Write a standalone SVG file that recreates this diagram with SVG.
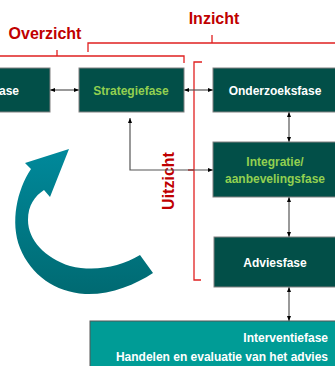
<svg xmlns="http://www.w3.org/2000/svg" width="335" height="366" viewBox="0 0 335 366">
<defs>
<style>
.box{fill:#024f48;stroke:#808080;stroke-width:1}
.t{font-family:"Liberation Sans",Arial,sans-serif;font-weight:bold;font-size:12px;fill:#ffffff}
.g{fill:#92d050}
.red{font-family:"Liberation Sans",Arial,sans-serif;font-weight:bold;font-size:16px;fill:#c00000}
.br{fill:none;stroke:#e02020;stroke-width:1.3}
.c{fill:none;stroke:#555555;stroke-width:1.2}
</style>
<marker id="ah" viewBox="0 0 10 10" refX="10" refY="5" markerWidth="5" markerHeight="5" orient="auto-start-reverse" markerUnits="userSpaceOnUse">
<path d="M0,1 L10,5 L0,9 Z" fill="#000000"/>
</marker>
<linearGradient id="ag" x1="0" y1="0" x2="0" y2="1">
<stop offset="0" stop-color="#00899b"/>
<stop offset="1" stop-color="#006a72"/>
</linearGradient>
</defs>
<rect width="335" height="366" fill="#ffffff"/>
<g id="brackets">
<path class="br" d="M0,56 H184 V63 M57,56 V50"/>
<path class="br" d="M88,52 V43 H336 M212,43 V35"/>
<path class="br" d="M202,62 H194 V280 H201 M194,170 H188"/>
<text class="red" x="45" y="39" text-anchor="middle">Overzicht</text>
<text class="red" x="214" y="24" text-anchor="middle">Inzicht</text>
<text class="red" transform="translate(168,181) rotate(-90)" text-anchor="middle" dominant-baseline="central">Uitzicht</text>
</g>
<g id="curved-arrow">
<path fill="url(#ag)" d="M69,149 L25,163 L31,169 C17,190 10,222 20,248 C31,275 55,292 85,294 C110,295 135,285 153,273 L140,255 C120,267 95,272 70,266 C45,258 28,240 28,220 C28,205 35,196 44,190 L50,197 Z"/>
</g>
<g id="connectors">
<line class="c" x1="50" y1="90" x2="79" y2="90" marker-start="url(#ah)" marker-end="url(#ah)"/>
<line class="c" x1="184" y1="90" x2="213" y2="90" marker-start="url(#ah)" marker-end="url(#ah)"/>
<polyline class="c" points="130,118 130,170 213,170" marker-start="url(#ah)" marker-end="url(#ah)"/>
<line class="c" x1="289" y1="112" x2="289" y2="142" marker-start="url(#ah)" marker-end="url(#ah)"/>
<line class="c" x1="289" y1="197" x2="289" y2="237" marker-start="url(#ah)" marker-end="url(#ah)"/>
<line class="c" x1="289" y1="287" x2="289" y2="321" marker-start="url(#ah)" marker-end="url(#ah)"/>
</g>
<g id="node-left">
<rect class="box" x="-5" y="68" width="55" height="44"/>
<text class="t" x="19" y="95" text-anchor="end">fase</text>
</g>
<g id="node-strategiefase">
<rect class="box" x="79" y="68" width="105" height="44"/>
<text class="t g" x="131" y="95" text-anchor="middle">Strategiefase</text>
</g>
<g id="node-onderzoeksfase">
<rect class="box" x="213" y="68" width="130" height="44"/>
<text class="t" x="275" y="95" text-anchor="middle">Onderzoeksfase</text>
</g>
<g id="node-integratie">
<rect class="box" x="213" y="142" width="130" height="55"/>
<text class="t g" x="275" y="166" text-anchor="middle">Integratie/</text>
<text class="t g" x="275" y="183" text-anchor="middle">aanbevelingsfase</text>
</g>
<g id="node-adviesfase">
<rect class="box" x="214" y="237" width="130" height="50"/>
<text class="t" x="275" y="266.5" text-anchor="middle">Adviesfase</text>
</g>
<g id="node-interventiefase">
<rect x="90" y="321" width="260" height="60" fill="#009c96" stroke="#555555" stroke-width="1"/>
<text class="t" x="328" y="342" text-anchor="end">Interventiefase</text>
<text class="t" x="328" y="360.5" text-anchor="end">Handelen en evaluatie van het advies</text>
</g>
</svg>
